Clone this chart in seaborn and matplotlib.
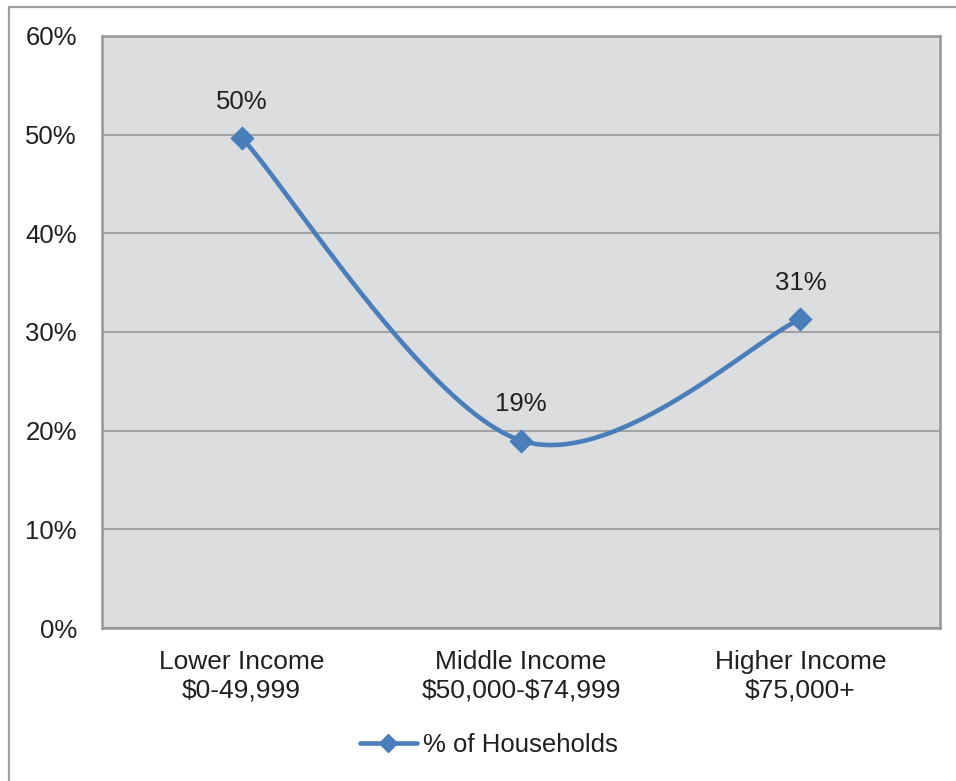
import matplotlib

matplotlib.use("Agg")
import matplotlib.pyplot as plt
import numpy as np
import pandas as pd
import seaborn as sns
from matplotlib.lines import Line2D
from matplotlib.ticker import PercentFormatter

# データ
categories = ["Lower Income\n$0-49,999", "Middle Income\n$50,000-$74,999", "Higher Income\n$75,000+"]
share = [0.497, 0.19, 0.313]
series_name = "% of Households"

LINE_COLOR = "#4A7EBB"
PLOT_BG = "#DCDDDF"
GRID_COLOR = "#A3A3A3"
BORDER_COLOR = "#979797"
TEXT_COLOR = "#231F20"


def smooth_curve(xs, ys, n=60):
    """Excel風のスムージング線 (Catmull-Rom -> Bezier)"""
    pts = np.column_stack([xs, ys]).astype(float)
    ext = np.vstack([pts[0], pts, pts[-1]])
    out = []
    t = np.linspace(0, 1, n)[:, None]
    for i in range(len(pts) - 1):
        p0, p1, p2, p3 = ext[i], ext[i + 1], ext[i + 2], ext[i + 3]
        c1 = p1 + (p2 - p0) / 6
        c2 = p2 - (p3 - p1) / 6
        seg = (1 - t) ** 3 * p1 + 3 * (1 - t) ** 2 * t * c1 + 3 * (1 - t) * t ** 2 * c2 + t ** 3 * p2
        out.append(seg if i == 0 else seg[1:])
    return np.vstack(out)


sns.set_theme(style="white")
plt.rcParams["font.family"] = ["Liberation Sans", "DejaVu Sans"]
plt.rcParams["text.parse_math"] = False  # "$" をそのまま表示

df = pd.DataFrame({"x": np.arange(len(categories)), "share": share})
curve = smooth_curve(df["x"], df["share"])
curve_df = pd.DataFrame(curve, columns=["x", "share"])

fig = plt.figure(figsize=(9.56, 7.81), dpi=100)
ax = fig.add_axes([102 / 956, 1 - 628 / 781, 838 / 956, 592 / 781])
ax.set_facecolor(PLOT_BG)

# 外枠 (左と上のみ見える)
fig.add_artist(Line2D([8.5 / 956, 8.5 / 956], [0, 1 - 6.5 / 781], color="#A0A0A0", lw=1.6))
fig.add_artist(Line2D([8.5 / 956, 1], [1 - 6.5 / 781, 1 - 6.5 / 781], color="#A0A0A0", lw=1.6))

sns.lineplot(data=curve_df, x="x", y="share", sort=False, estimator=None, color=LINE_COLOR, lw=3.3, ax=ax, zorder=3)
sns.scatterplot(data=df, x="x", y="share", marker="D", s=130, color=LINE_COLOR, edgecolor=LINE_COLOR, linewidth=1, ax=ax, zorder=4)

for x, v in zip(df["x"], df["share"]):
    ax.annotate(f"{v * 100:.0f}%", (x, v), xytext=(0, 26), textcoords="offset points",
                ha="center", va="center", fontsize=18.5, color=TEXT_COLOR)

ax.set_xlim(-0.5, len(categories) - 0.5)
ax.set_ylim(0, 0.6)
ax.set_yticks(np.arange(0, 0.61, 0.1))
ax.yaxis.set_major_formatter(PercentFormatter(1.0, decimals=0))
ax.set_xticks(df["x"])
ax.set_xticklabels(categories, linespacing=1.25)
ax.tick_params(axis="y", length=0, pad=18, labelsize=18.5, labelcolor=TEXT_COLOR)
ax.tick_params(axis="x", length=0, pad=16, labelsize=19, labelcolor=TEXT_COLOR)
ax.set_xlabel("")
ax.set_ylabel("")

ax.grid(True, axis="y", color=GRID_COLOR, lw=1.5)
ax.grid(False, axis="x")
ax.set_axisbelow(True)
for sp in ax.spines.values():
    sp.set_visible(True)
    sp.set_color(BORDER_COLOR)
    sp.set_linewidth(1.8)

handle = Line2D([], [], color=LINE_COLOR, lw=3.3, marker="D", markersize=9.5)
fig.legend([handle], [series_name], loc="center", bbox_to_anchor=(489 / 956, 1 - 745 / 781),
           frameon=False, fontsize=18.5, handlelength=2.2, handletextpad=0.25, borderpad=0,
           labelcolor=TEXT_COLOR)

fig.savefig("out.png", dpi=100)
plt.close(fig)
